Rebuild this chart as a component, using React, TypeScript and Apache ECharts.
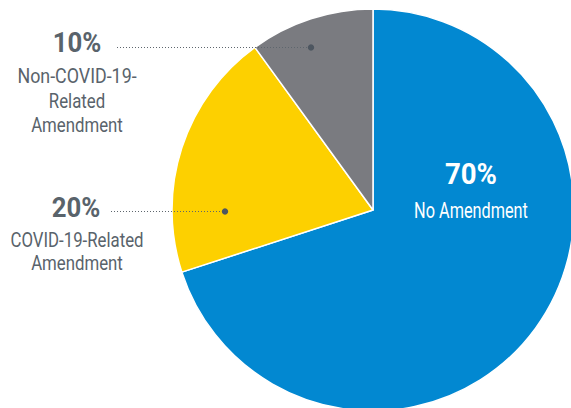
import React, { useEffect, useRef } from "react";
import * as echarts from "echarts";

const categories = ["No Amendment", "COVID-19-Related Amendment", "Non-COVID-19-Related Amendment"];
const values = [70, 20, 10];
const colors = ["#0288D1", "#FDD000", "#7A7B80"];

const FONT = 'Roboto, "Liberation Sans", sans-serif';
const TXT = "#59636B";

function txt(x: number, y: number, text: string, size: number, bold: boolean, fill: string, sx: number) {
  return {
    type: "text",
    x,
    y,
    z: 20,
    scaleX: sx,
    style: { text, font: `${bold ? "bold " : ""}${size}px ${FONT}`, fill, align: "center", verticalAlign: "middle" },
  };
}

export default function App() {
  const ref = useRef<HTMLDivElement>(null);
  useEffect(() => {
    if (!ref.current) return;
    const chart = echarts.init(ref.current, undefined, { renderer: "svg" });
    const center = [373, 210];
    const r = 201;
    chart.setOption({
      animation: false,
      backgroundColor: "#ffffff",
      series: [
        {
          type: "pie",
          center,
          radius: [0, r],
          startAngle: 90,
          clockwise: true,
          label: { show: false },
          labelLine: { show: false },
          silent: true,
          z: 2,
          itemStyle: { borderColor: "#ffffff", borderWidth: 1.5 },
          data: categories.map((c, i) => ({ name: c, value: values[i], itemStyle: { color: colors[i] } })),
        },
      ],
      graphic: [
        // 10% label
        { type: "line", z: 20, shape: { x1: 117, y1: 47.5, x2: 311, y2: 47.5 }, style: { stroke: "#5E666D", lineWidth: 1, lineDash: [1, 2] } },
        { type: "circle", z: 20, shape: { cx: 311, cy: 47.5, r: 3.2 }, style: { fill: "#4D5660" } },
        txt(77, 43, values[2] + "%", 28, true, TXT, 0.92),
        txt(77, 76, "Non-COVID-19-", 21, false, TXT, 0.85),
        txt(77, 101, "Related", 21, false, TXT, 0.8),
        txt(77, 125, "Amendment", 21, false, TXT, 0.8),
        // 20% label
        { type: "line", z: 20, shape: { x1: 111, y1: 211.5, x2: 225, y2: 211.5 }, style: { stroke: "#5E666D", lineWidth: 1, lineDash: [1, 2] } },
        { type: "circle", z: 20, shape: { cx: 225, cy: 211.5, r: 3.2 }, style: { fill: "#4D5660" } },
        txt(76, 208, values[1] + "%", 28, true, TXT, 0.92),
        txt(77, 240, "COVID-19-Related", 21, false, TXT, 0.8),
        txt(77, 263, "Amendment", 21, false, TXT, 0.8),
        // 70% label
        txt(471, 174, values[0] + "%", 30, true, "#ffffff", 0.92),
        txt(471, 211, "No Amendment", 22, false, "#ffffff", 0.74),
      ],
    });
    return () => chart.dispose();
  }, []);
  return <div ref={ref} style={{ position: "fixed", left: 0, top: 0, width: 571, height: 408 }} />;
}
